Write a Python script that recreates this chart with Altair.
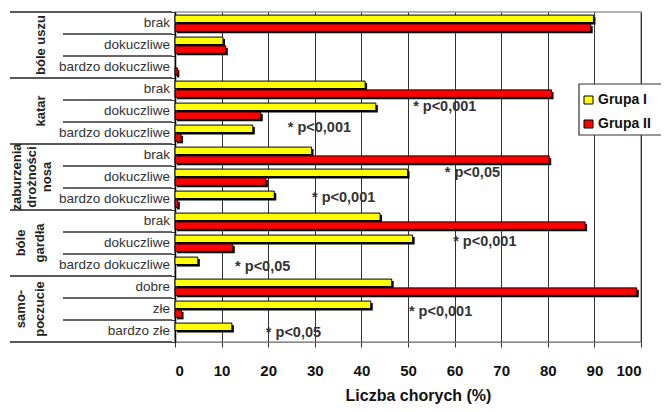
import altair as alt
import pandas as pd

# ---- data ----
group_lines = [["bóle uszu"], ["katar"], ["zaburzenia", "drożności", "nosa"],
               ["bóle", "gardła"], ["samo-", "poczucie"]]
row_labels = ["brak", "dokuczliwe", "bardzo dokuczliwe",
              "brak", "dokuczliwe", "bardzo dokuczliwe",
              "brak", "dokuczliwe", "bardzo dokuczliwe",
              "brak", "dokuczliwe", "bardzo dokuczliwe",
              "dobre", "złe", "bardzo złe"]
grupa_1 = [89.8, 10.3, 0.0, 40.8, 43.1, 16.7, 29.3, 49.9, 21.3, 44.0, 51.0, 4.9, 46.5, 42.0, 12.2]
grupa_2 = [89.2, 10.9, 0.5, 80.8, 18.4, 1.3, 80.3, 19.5, 0.6, 88.0, 12.4, 0.0, 99.1, 1.4, 0.0]
series_names = ["Grupa I", "Grupa II"]
series_colors = ["#FFFF00", "#FF0000"]
annot_text = ["* p<0,001", "* p<0,001", "* p<0,05", "* p<0,001",
              "* p<0,001", "* p<0,05", "* p<0,001", "* p<0,05"]
annot_x = [51.1, 24.2, 57.9, 29.4, 59.7, 12.9, 50.2, 19.5]
annot_row = [4.32, 5.27, 7.32, 8.45, 10.45, 11.6, 13.64, 14.6]
x_ticks = list(range(0, 101, 10))
x_title = "Liczba chorych (%)"

# ---- tables ----
n_rows = len(row_labels)
bars = pd.DataFrame({
    "row": list(range(n_rows)) * 2,
    "series": [series_names[0]] * n_rows + [series_names[1]] * n_rows,
    "value": grupa_1 + grupa_2,
})
bars = bars[bars["value"] > 0]
rows_df = pd.DataFrame({"row": list(range(n_rows)), "label": row_labels})
bounds_df = pd.DataFrame({"b": list(range(n_rows + 1))})
glines = []
for gi, lines in enumerate(group_lines):
    for li, t in enumerate(lines):
        glines.append({"g": gi, "li": li, "n": len(lines), "text": t})
glines_df = pd.DataFrame(glines)
annot_df = pd.DataFrame({"text": annot_text, "ax": annot_x, "ar": annot_row})

SANS = "Liberation Sans, Arial, sans-serif"

yscale = alt.Scale(domain=[0, n_rows], reverse=True, nice=False, zero=False)
yaxis = alt.Axis(values=list(range(n_rows + 1)), labels=False, title=None, ticks=True,
                 tickSize=4, tickColor="#333", grid=False, domainColor="black", domainWidth=1.5)
xscale = alt.Scale(domain=[0, 100], nice=False, zero=True)
xaxis = alt.Axis(values=x_ticks, title=x_title, grid=True, gridColor="#333", gridWidth=1,
                 tickSize=5, tickColor="#333", domainColor="#888",
                 labelFont=SANS, labelFontWeight="bold", labelFontSize=15, labelColor="#111",
                 labelPadding=16, titleFont=SANS, titleFontWeight="bold", titleFontSize=16,
                 titleColor="#111", titlePadding=9, titleX=243, titleAlign="center")

base = alt.Chart(bars).transform_calculate(
    x0="0",
    y0="datum.row + (datum.series == 'Grupa I' ? 0.14 : 0.54)",
).transform_calculate(
    y1="datum.y0 + 0.34"
)

shadow = base.mark_rect(color="black", xOffset=2, x2Offset=2, yOffset=2, y2Offset=2).encode(
    x=alt.X("x0:Q", scale=xscale, axis=xaxis),
    x2="value:Q",
    y=alt.Y("y0:Q", scale=yscale, axis=yaxis),
    y2="y1:Q",
)
barlayer = base.mark_rect(stroke="black", strokeWidth=1).encode(
    x=alt.X("x0:Q", scale=xscale, axis=xaxis),
    x2="value:Q",
    y=alt.Y("y0:Q", scale=yscale, axis=yaxis),
    y2="y1:Q",
    color=alt.Color("series:N", scale=alt.Scale(domain=series_names, range=series_colors), legend=None),
)

sub_sep = alt.Chart(bounds_df).transform_filter("datum.b % 3 != 0").mark_rule(
    color="#333", strokeWidth=1.5).encode(
    x=alt.value(-112), x2=alt.value(-3),
    y=alt.Y("b:Q", scale=yscale, axis=yaxis),
)
grp_sep = alt.Chart(bounds_df).transform_filter("datum.b % 3 == 0").mark_rule(
    color="#222", strokeWidth=1.5).encode(
    x=alt.value(-165), x2=alt.value(-3),
    y=alt.Y("b:Q", scale=yscale, axis=yaxis),
)

row_text = alt.Chart(rows_df).transform_calculate(mid="datum.row + 0.5").mark_text(
    align="right", baseline="middle", font=SANS, fontSize=13.5, color="#333").encode(
    x=alt.value(-5),
    y=alt.Y("mid:Q", scale=yscale, axis=yaxis),
    text="label:N",
)

# group label positions (pixels relative to plot left edge) per (n lines, line index)
gpos = {(1, 0): -134, (2, 0): -154, (2, 1): -135, (3, 0): -158, (3, 1): -143, (3, 2): -128}
glayers = []
for (n, li), px in gpos.items():
    glayers.append(
        alt.Chart(glines_df).transform_filter(f"datum.n == {n} && datum.li == {li}")
        .transform_calculate(gy="datum.g * 3 + 1.5")
        .mark_text(angle=270, align="center", baseline="middle", font=SANS,
                   fontSize=13, fontWeight="bold", color="#222")
        .encode(x=alt.value(px), y=alt.Y("gy:Q", scale=yscale, axis=yaxis), text="text:N")
    )

annot = alt.Chart(annot_df).mark_text(align="left", baseline="middle", font=SANS,
                                      fontSize=14.5, fontWeight="bold", color="#333").encode(
    x=alt.X("ax:Q", scale=xscale, axis=xaxis),
    y=alt.Y("ar:Q", scale=yscale, axis=yaxis),
    text="text:N",
)

one = pd.DataFrame({"k": [0]})
leg_layers = [
    alt.Chart(one).mark_rect(fill="white", stroke="#333", strokeWidth=1.2).encode(
        x=alt.value(404), x2=alt.value(520), y=alt.value(72), y2=alt.value(123)),
]
for i, (nm, col) in enumerate(zip(series_names, series_colors)):
    top = 84 + 24 * i
    leg_layers.append(
        alt.Chart(one).mark_rect(fill=col, stroke="black", strokeWidth=1).encode(
            x=alt.value(409), x2=alt.value(418), y=alt.value(top), y2=alt.value(top + 8)))
    leg_layers.append(
        alt.Chart(one).mark_text(align="left", baseline="middle", font=SANS, fontSize=14,
                                 fontWeight="bold", color="#111").encode(
            x=alt.value(423), y=alt.value(top + 4), text=alt.value(nm)))

chart = alt.layer(shadow, barlayer, sub_sep, grp_sep, row_text, *glayers, annot,
                  *leg_layers).properties(
    width=466, height=330,
    autosize=alt.AutoSizeParams(type="none"),
    padding={"left": 167, "top": 4, "right": 20, "bottom": 62},
).configure_view(stroke="#999", strokeWidth=1.5)

chart.save("out.html", embed_options={"renderer": "svg", "actions": False})
